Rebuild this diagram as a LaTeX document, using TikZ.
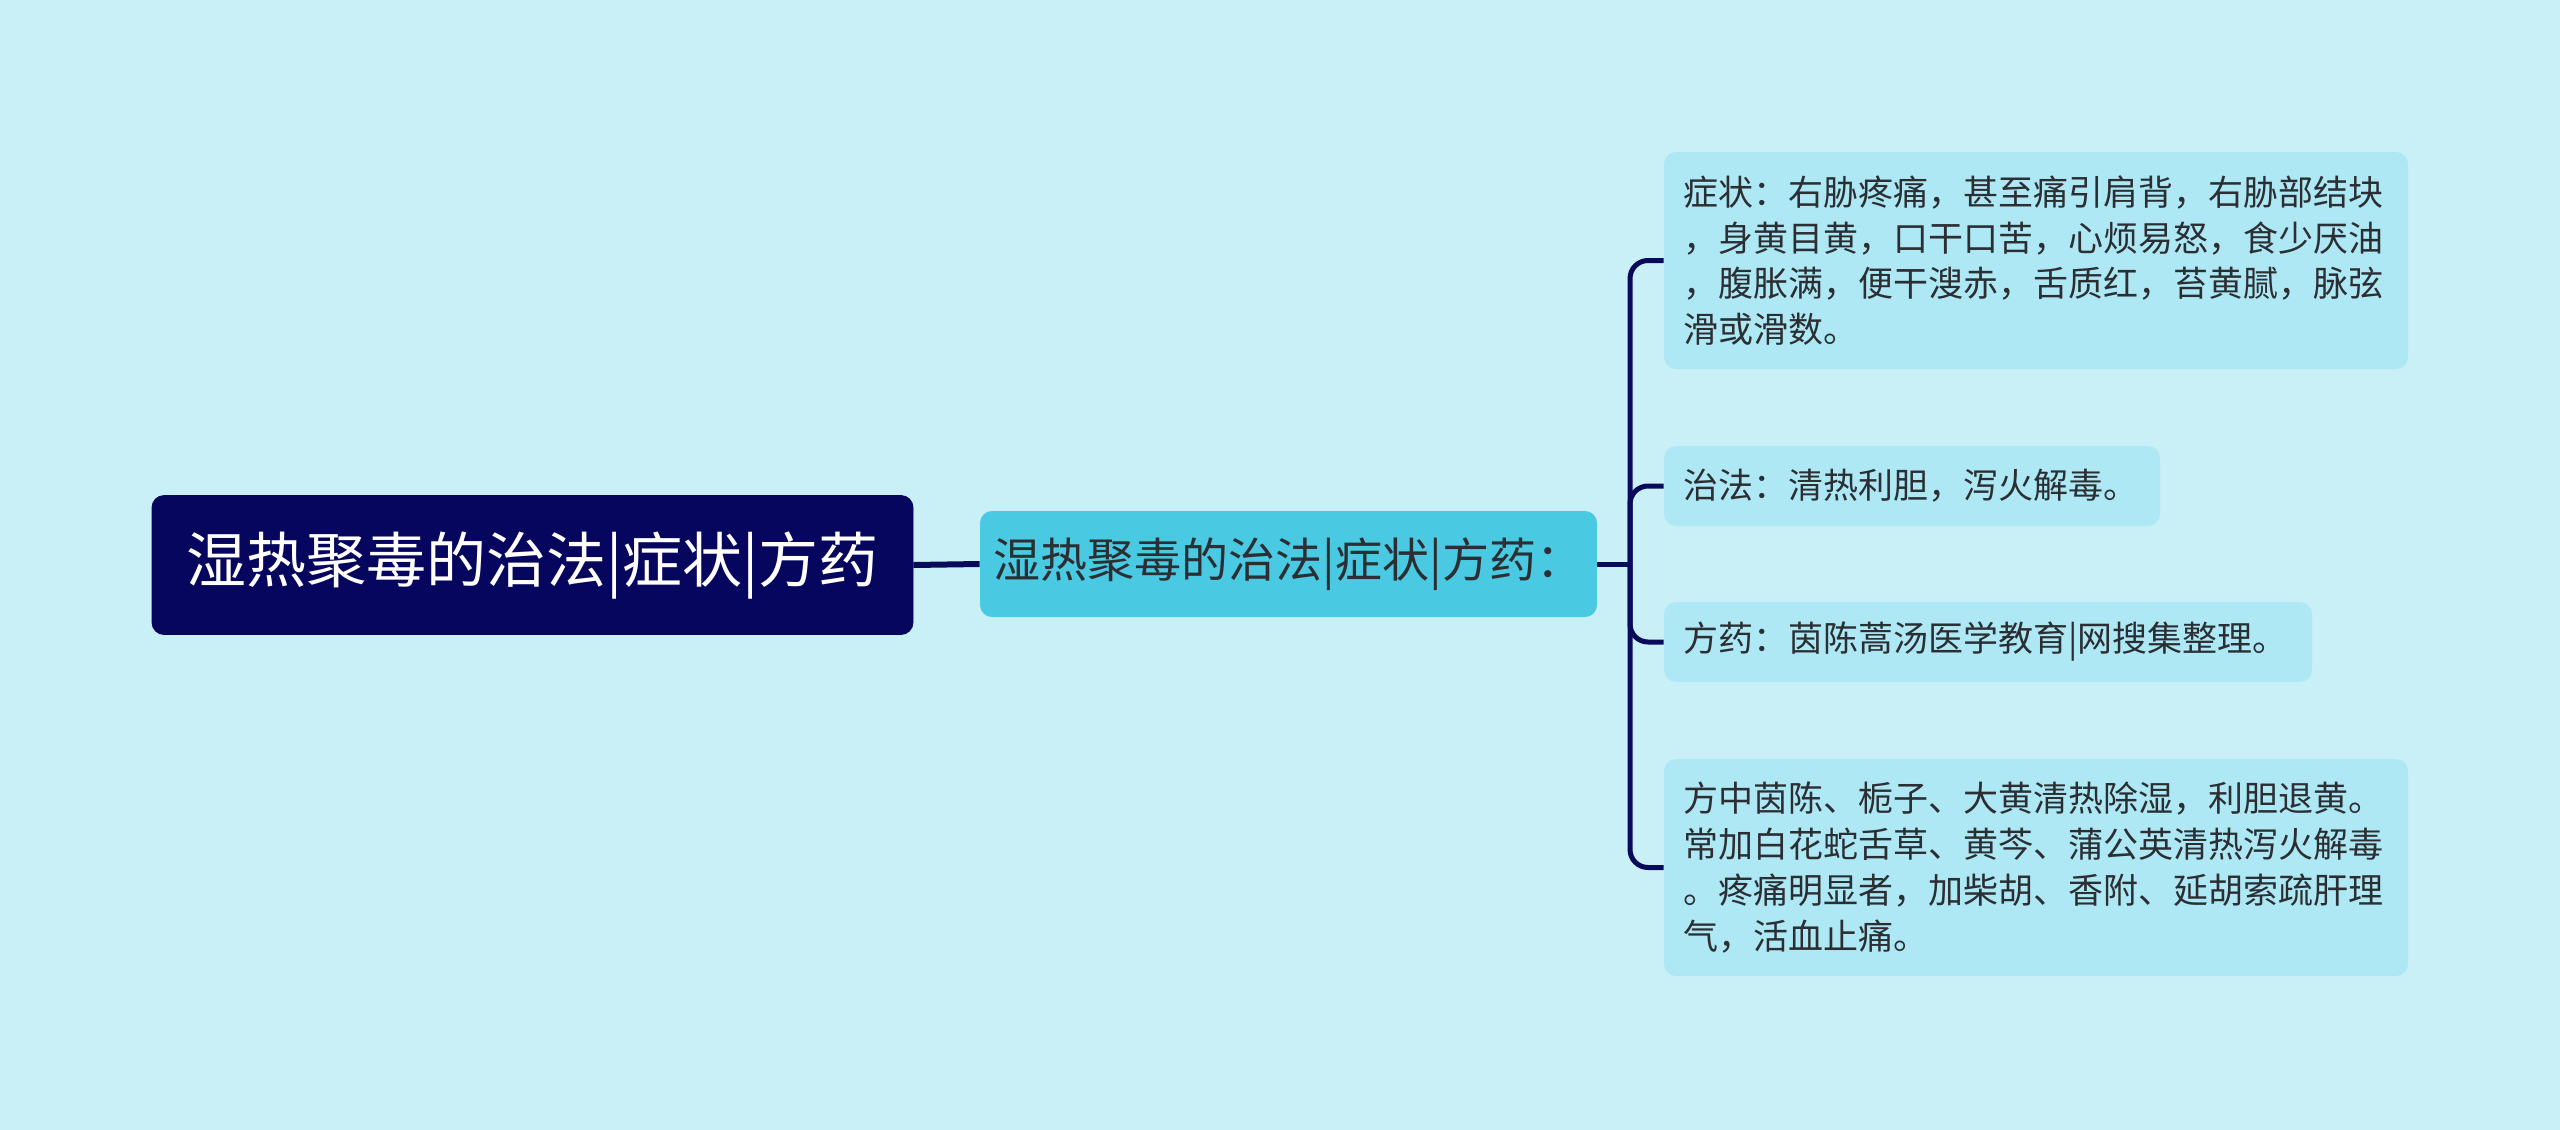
\documentclass[tikz,border=0pt]{standalone}
\usepackage{fontspec}
\setmainfont{Noto Sans CJK SC}
\definecolor{bg}{HTML}{C9F0F7}
\definecolor{rootfill}{HTML}{07065E}
\definecolor{midfill}{HTML}{4AC9E2}
\definecolor{leaffill}{HTML}{AEE8F4}
\definecolor{conncol}{HTML}{0A0A5A}
\definecolor{txt}{HTML}{2B2F33}
\begin{document}
\begin{tikzpicture}[x=0.5pt,y=-0.5pt,
  rootbox/.style={fill=rootfill,draw=rootfill,rounded corners=6pt,text=white,
    font=\fontsize{30}{36}\selectfont,inner sep=0pt,align=center},
  midbox/.style={fill=midfill,rounded corners=6pt,text=txt,
    font=\fontsize{23.5}{28}\selectfont,inner sep=0pt,align=center},
  leafbox/.style={fill=leaffill,rounded corners=6pt,text=txt,
    font=\fontsize{17.5}{22.9}\selectfont,inner xsep=9.5pt,inner ysep=0pt,align=left},
  conn/.style={draw=conncol,line width=2.5pt}]
\useasboundingbox (0,0) rectangle (2560,1130);
\fill[bg] (0,0) rectangle (2560,1130);

\node[rootbox,minimum width=380.5pt,minimum height=69.5pt] (root) at (532.5,565) {湿热聚毒的治法|症状|方药};
\node[midbox,minimum width=308.5pt,minimum height=53pt] (mid) at (1288.5,564) {湿热聚毒的治法|症状|方药：};

\node[leafbox,text width=353pt,minimum height=108.5pt] (l1) at (2036,260.5)
 {症状：右胁疼痛，甚至痛引肩背，右胁部结块\\，身黄目黄，口干口苦，心烦易怒，食少厌油\\，腹胀满，便干溲赤，舌质红，苔黄腻，脉弦\\滑或滑数。};
\node[leafbox,text width=229pt,minimum height=40pt] (l2) at (1912,486)
 {治法：清热利胆，泻火解毒。};
\node[leafbox,text width=305pt,minimum height=40pt] (l3) at (1988,642)
 {方药：茵陈蒿汤医学教育|网搜集整理。};
\node[leafbox,text width=353pt,minimum height=108.5pt] (l4) at (2036,867.5)
 {方中茵陈、栀子、大黄清热除湿，利胆退黄。\\常加白花蛇舌草、黄芩、蒲公英清热泻火解毒\\。疼痛明显者，加柴胡、香附、延胡索疏肝理\\气，活血止痛。};

\coordinate (jn) at (1630,564);
\draw[conn,line width=3pt] (root.east) -- (mid.west);
\draw[conn] (mid.east) -- (jn);
\foreach \l in {l1,l2,l3,l4}{
  \draw[conn,rounded corners=9pt] (jn) |- (\l.west);
}
\end{tikzpicture}
\end{document}
